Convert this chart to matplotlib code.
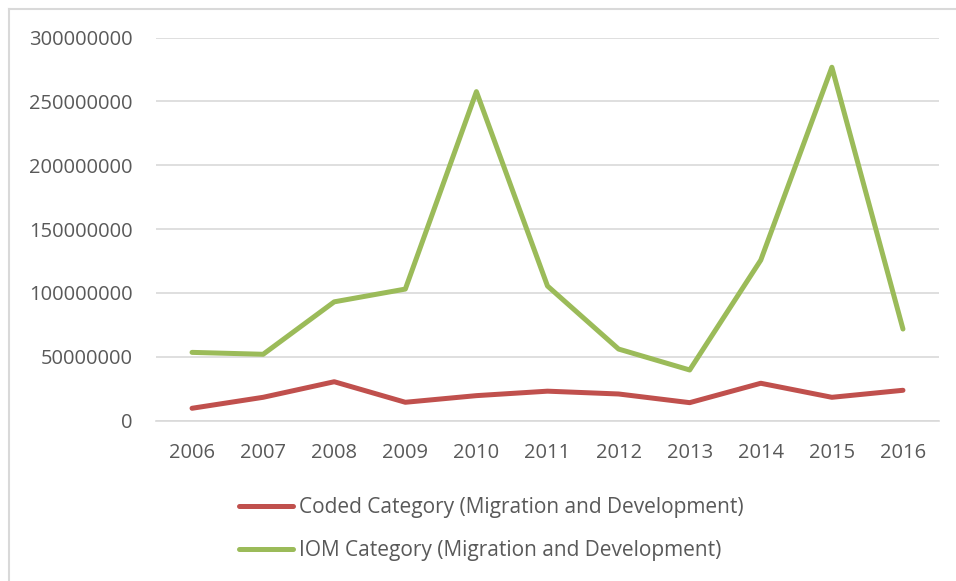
import matplotlib.pyplot as plt
from matplotlib.lines import Line2D

years = ['2006', '2007', '2008', '2009', '2010', '2011', '2012', '2013', '2014', '2015', '2016']
coded = [9.6e6, 18.2e6, 30.4e6, 14.3e6, 19.5e6, 23.0e6, 20.8e6, 14.0e6, 29.2e6, 18.2e6, 23.7e6]
iom = [53.4e6, 51.9e6, 93e6, 103e6, 257.7e6, 105.4e6, 56e6, 39.6e6, 125.7e6, 276.8e6, 71.7e6]

plt.rcParams['font.family'] = ['Open Sans', 'DejaVu Sans']
text_col = '#595959'
grid_col = '#D9D9D9'

fig = plt.figure(figsize=(9.56, 5.81), dpi=100)
ax = fig.add_axes([0.1637, 0.2762, 0.818, 0.659])

x = range(len(years))
ax.plot(x, coded, color='#C0504D', lw=3.6, solid_capstyle='round', solid_joinstyle='round',
        label='Coded Category (Migration and Development)')
ax.plot(x, iom, color='#9BBB59', lw=3.6, solid_capstyle='round', solid_joinstyle='round',
        label='IOM Category (Migration and Development)')

ax.set_xlim(-0.5, len(years) - 0.5)
ax.set_ylim(0, 300000000)
ax.set_yticks(range(0, 300000001, 50000000))
ax.set_yticklabels([str(v) for v in range(0, 300000001, 50000000)])
ax.set_xticks(list(x))
ax.set_xticklabels(years)
ax.yaxis.grid(True, color=grid_col, lw=1.2)
ax.set_axisbelow(True)
for s in ['top', 'right', 'left']:
    ax.spines[s].set_visible(False)
ax.spines['bottom'].set_color(grid_col)
ax.spines['bottom'].set_linewidth(1.2)
ax.tick_params(length=0, labelsize=14.5, colors=text_col)
ax.tick_params(axis='x', pad=16)
ax.tick_params(axis='y', pad=17)

leg = fig.legend(loc='center', bbox_to_anchor=(0.514, 0.0895), ncol=1, frameon=False,
                 fontsize=15, handlelength=2.55, handletextpad=0.29, labelspacing=1.05)
for t in leg.get_texts():
    t.set_color(text_col)

# chart frame: top and left edges only (cropped screenshot)
bx, by = 8.5 / 956, 1 - 8.5 / 581
fig.add_artist(Line2D([bx, 1], [by, by], transform=fig.transFigure, color=grid_col, lw=1.5))
fig.add_artist(Line2D([bx, bx], [0, by], transform=fig.transFigure, color=grid_col, lw=1.5))

fig.savefig('out.png', dpi=100)
